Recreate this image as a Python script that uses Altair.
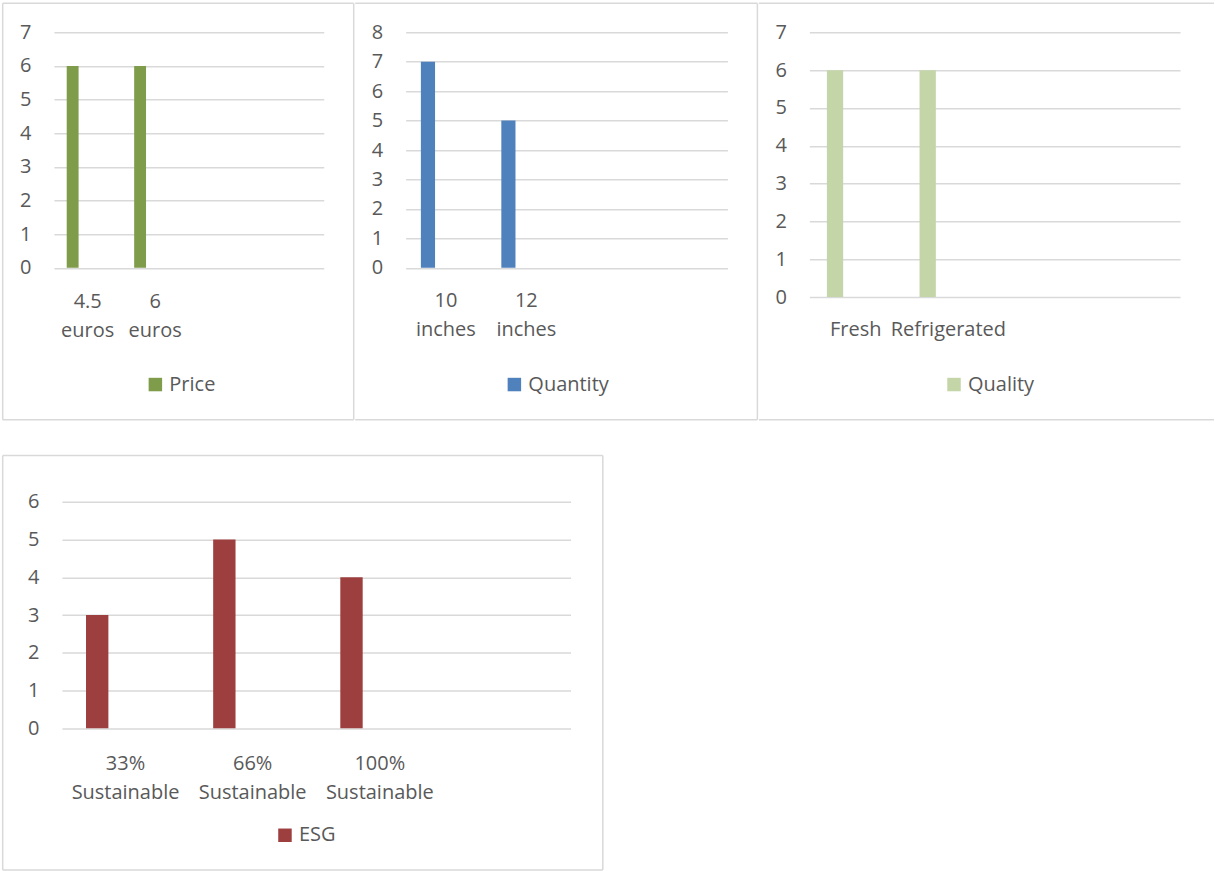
import altair as alt
import pandas as pd

FONT = "Open Sans"
FS = 20
TXT = "#595959"
GRID = "#d9d9d9"

# ---- data ----
price_cats = ["4.5 euros", "6 euros"]
price_vals = [6, 6]
qty_cats = ["10 inches", "12 inches"]
qty_vals = [7, 5]
qual_cats = ["Fresh", "Refrigerated"]
qual_vals = [6, 6]
esg_cats = ["33% Sustainable", "66% Sustainable", "100% Sustainable"]
esg_vals = [3, 5, 4]

ONE = alt.Data(values=[{"k": 0}])


def frame(left, right, top, bottom, sides):
    base = alt.Chart(ONE).mark_rule(color=GRID, strokeWidth=1.5)
    parts = []
    if "t" in sides:
        parts.append(base.encode(x=alt.value(left), x2=alt.value(right), y=alt.value(top)))
    if "b" in sides:
        parts.append(base.encode(x=alt.value(left), x2=alt.value(right), y=alt.value(bottom)))
    if "l" in sides:
        parts.append(base.encode(x=alt.value(left), y=alt.value(top), y2=alt.value(bottom)))
    if "r" in sides:
        parts.append(base.encode(x=alt.value(right), y=alt.value(top), y2=alt.value(bottom)))
    return parts


def panel(name, cats, vals, blanks, color, ymax, w, h, lab_pad, leg_x, leg_y, box, sides):
    df = pd.DataFrame({"cat": cats, "value": vals, "series": [name] * len(cats)})
    domain = cats + blanks
    bars = alt.Chart(df).mark_bar().encode(
        x=alt.X(
            "cat:N",
            sort=domain,
            scale=alt.Scale(domain=domain, paddingInner=0, paddingOuter=0),
            axis=alt.Axis(
                title=None, labelAngle=0, domain=False, ticks=False, grid=False,
                labelPadding=lab_pad,
                labelExpr="indexof(datum.value, '_') == 0 ? '' : split(datum.value, ' ')",
                labelLineHeight=29, labelFont=FONT, labelFontSize=FS, labelColor=TXT,
                labelBaseline="top", labelOverlap=False, labelLimit=300,
            ),
        ),
        xOffset=alt.XOffset(
            "series:N",
            scale=alt.Scale(domain=[name, "_b", "_c"], paddingInner=0.21, paddingOuter=0.85),
        ),
        y=alt.Y(
            "value:Q",
            scale=alt.Scale(domain=[0, ymax], nice=False),
            axis=alt.Axis(
                title=None, values=list(range(ymax + 1)), domain=False, ticks=False,
                grid=True, gridColor=GRID, gridWidth=1.5, labelPadding=23,
                labelFont=FONT, labelFontSize=FS, labelColor=TXT,
            ),
        ),
        color=alt.Color(
            "series:N",
            scale=alt.Scale(domain=[name], range=[color]),
            legend=alt.Legend(
                title=None, orient="none", legendX=leg_x, legendY=leg_y,
                symbolType="square", symbolSize=182, symbolStrokeWidth=0,
                labelOffset=4, padding=0, labelFont=FONT, labelFontSize=FS,
                labelColor=TXT, direction="horizontal",
            ),
        ),
    )
    return alt.layer(*frame(*box, sides), bars).properties(width=w, height=h)


p1 = panel("Price", price_cats, price_vals, ["_3", "_4"], "#7e9c4a", 7, 270, 235.6,
           24, 91.5, 342.5, (-51.3, 300, -29, 387.8), "tblr")
p2 = panel("Quantity", qty_cats, qty_vals, ["_3", "_4"], "#4f81bd", 8, 322, 235.6,
           23, 98.8, 342.5, (-50.5, 352, -29, 387.8), "tbr")
p3 = panel("Quality", qual_cats, qual_vals, ["_3", "_4"], "#c4d6a7", 7, 371, 265,
           22, 134.8, 342.5, (-50.5, 405, -29, 387.8), "tb")
p4 = panel("ESG", esg_cats, esg_vals, ["_4"], "#9d3f3e", 6, 509, 226.8,
           25, 213.2, 323.8, (-59.3, 541.3, -46.2, 368.5), "tblr")

spacer = (
    alt.Chart(ONE)
    .mark_text(text="", opacity=0)
    .encode(x=alt.value(0), y=alt.value(0))
    .properties(width=1, height=1)
)

indep = dict(x="independent", y="independent", color="independent", xOffset="independent")

top_row = (
    alt.hconcat(p1, p2, p3, spacing=82, bounds="flush")
    .resolve_scale(**indep)
    .resolve_legend(color="independent")
)
bottom_row = (
    alt.hconcat(spacer, p4, spacing=7, bounds="flush")
    .resolve_scale(**indep)
    .resolve_legend(color="independent")
)
chart = (
    alt.vconcat(top_row, bottom_row, spacing=469.8, bounds="flush")
    .resolve_scale(**indep)
    .resolve_legend(color="independent")
    .properties(padding={"left": 1, "top": 2, "right": 0, "bottom": 0}, background="white")
    .configure_view(strokeOpacity=0)
)

chart.save("out.html", embed_options={"renderer": "svg", "actions": False})
